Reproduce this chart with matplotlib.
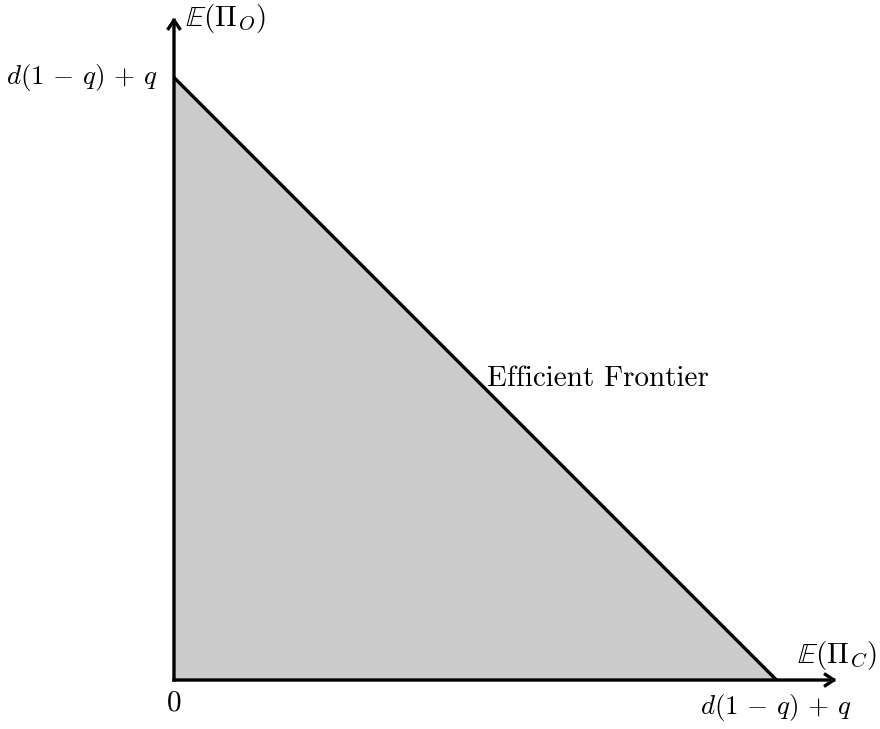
import matplotlib
matplotlib.use('Agg')
import matplotlib.pyplot as plt
from matplotlib.patches import FancyArrowPatch

plt.rcParams['mathtext.fontset'] = 'cm'
plt.rcParams['font.family'] = 'serif'
plt.rcParams['font.serif'] = ['cmr10', 'DejaVu Serif']
plt.rcParams['axes.unicode_minus'] = False

# 可行集：原点与两条坐标轴截距 d(1-q)+q（归一化为 1）
frontier_x = [0.0, 1.0]
frontier_y = [1.0, 0.0]
region_x = [0.0, 0.0, 1.0]
region_y = [0.0, 1.0, 0.0]
axis_len = 1.1
intercept_label = r'$d(1\,-\,q)\,+\,q$'
x_axis_label = r'$\mathbb{E}(\Pi_C)$'
y_axis_label = r'$\mathbb{E}(\Pi_O)$'
frontier_label = 'Efficient Frontier'

fig = plt.figure(figsize=(8.8, 7.29), dpi=100)
ax = fig.add_axes([0, 0, 1, 1])
ax.set_xlim(-0.2888, 1.1718)
ax.set_ylim(-0.0813, 1.1286)
ax.axis('off')

# 灰色区域
ax.fill(region_x, region_y, color='#cccccc', lw=0, zorder=1)

# 有效前沿
ax.plot(frontier_x, frontier_y, color='black', lw=2.4, solid_capstyle='butt', zorder=3)

# 坐标轴箭头
for end in [(axis_len, 0.0), (0.0, axis_len)]:
    arr = FancyArrowPatch((0, 0), end, arrowstyle='->,head_length=6,head_width=4',
                          mutation_scale=1, lw=2.4, color='black', zorder=4,
                          shrinkA=0, shrinkB=0, capstyle='projecting')
    ax.add_patch(arr)

fs = 21
ax.text(-0.027, 1.0, intercept_label, ha='right', va='center', fontsize=19.5)
ax.text(0.0, -0.038, r'$0$', ha='center', va='center', fontsize=fs)
ax.text(1.0, -0.046, intercept_label, ha='center', va='center', fontsize=19.5)
ax.text(0.018, axis_len - 0.002, y_axis_label, ha='left', va='center', fontsize=fs)
ax.text(axis_len, 0.041, x_axis_label, ha='center', va='center', fontsize=fs)
# 标签放在前沿中点右侧
ax.text(0.52, 0.5, frontier_label, ha='left', va='center', fontsize=fs)

fig.savefig('out.png', dpi=100)
